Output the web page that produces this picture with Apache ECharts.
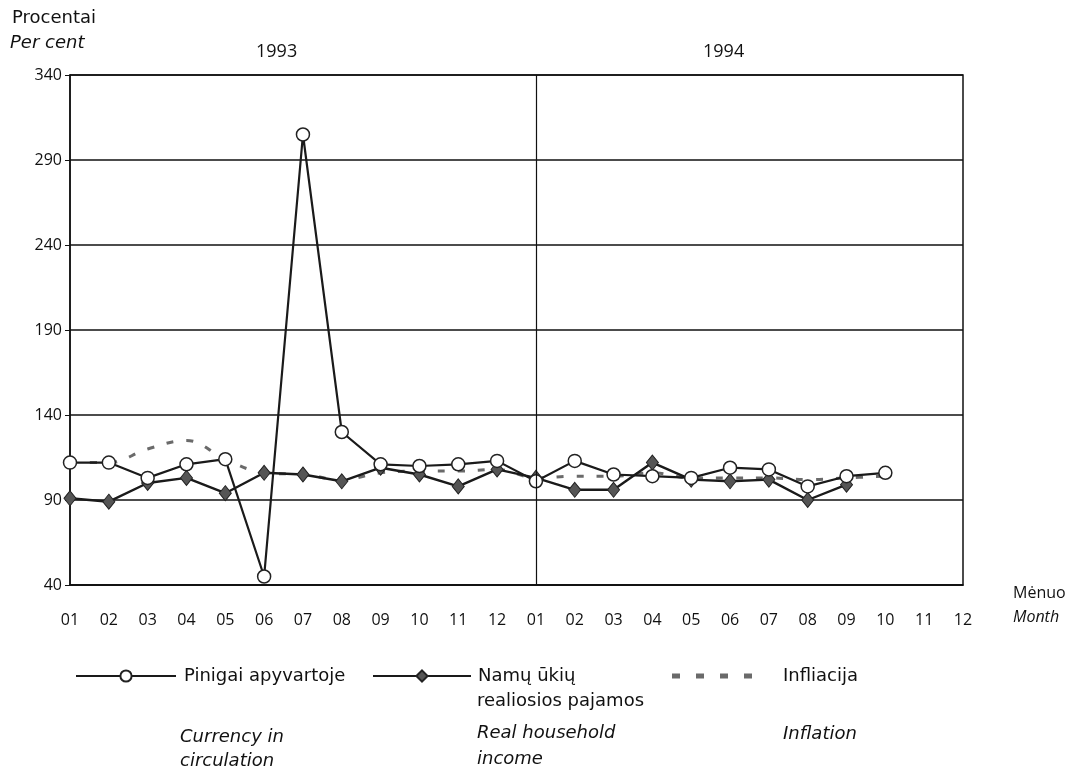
<!DOCTYPE html>
<html>
<head>
<meta charset="utf-8">
<script src="https://cdn.jsdelivr.net/npm/echarts@6/dist/echarts.min.js"></script>
<style>
html,body{margin:0;padding:0;background:#fff;}
#chart{width:1081px;height:773px;}
</style>
</head>
<body>
<div id="chart"></div>
<script>
const months = ['01','02','03','04','05','06','07','08','09','10','11','12','01','02','03','04','05','06','07','08','09','10','11','12'];
const yTicks = [40, 90, 140, 190, 240, 290, 340];
const currency = [112,112,103,111,114,45,305,130,111,110,111,113, 101,113,105,104,103,109,108,98,104,106,null,null];
const income   = [91,89,100,103,94,106,105,101,109,105,98,108, 103,96,96,112,102,101,102,90,99,null,null,null];
const inflation= [112,112,120,125,114,106,105,102,106,107,107,108, 103,104,104,106,103,103,103,102,103,104,null,null];

const FONT = '"Open Sans", sans-serif';
const TFONT = '"DejaVu Sans", sans-serif';
const chart = echarts.init(document.getElementById('chart'));
chart.setOption({
  animation: false,
  backgroundColor: '#fff',
  textStyle: {fontFamily: FONT, color: '#111'},
  grid: {left: 70, right: 118, top: 75, bottom: 188, show: true, borderColor: '#111', borderWidth: 1.5, backgroundColor: 'transparent'},
  xAxis: {
    type: 'category', data: months, boundaryGap: false,
    axisLine: {lineStyle: {color: '#111', width: 1.5}},
    axisTick: {show: false},
    axisLabel: {color: '#111', fontSize: 16, margin: 27, fontFamily: FONT, interval: 0},
    splitLine: {show: false}
  },
  yAxis: {
    type: 'value', min: 40, max: 340,
    axisLine: {show: true, lineStyle: {color: '#111', width: 1.5}},
    axisTick: {show: true, length: 5, customValues: yTicks, lineStyle: {color: '#111'}},
    axisLabel: {color: '#111', fontSize: 16, margin: 8, fontFamily: FONT, customValues: yTicks},
    splitLine: {show: true, lineStyle: {color: '#111', width: 1.5}}
  },
  legend: [
    {left: 75, top: 667, padding: 0, itemWidth: 100, itemHeight: 14, data: ['Pinigai apyvartoje'],
     textStyle: {fontSize: 18, color: '#111', fontFamily: TFONT, padding: [0,0,0,3]}},
    {left: 372, top: 667, padding: 0, itemWidth: 98, itemHeight: 14, data: ['Namų ūkių realiosios pajamos'],
     formatter: function(){ return 'Namų ūkių'; },
     textStyle: {fontSize: 18, color: '#111', fontFamily: TFONT, padding: [0,0,0,2]}},
    {left: 672, top: 667, padding: 0, itemWidth: 80, itemHeight: 5,
     data: [{name: 'Infliacija', icon: 'path://M0,0H8V5H0Z M24,0H32V5H24Z M48,0H56V5H48Z M72,0H80V5H72Z'}],
     textStyle: {fontSize: 18, color: '#111', fontFamily: TFONT, padding: [0,0,0,26]}}
  ],
  graphic: [
    {type: 'text', left: 12, top: 9, style: {text: 'Procentai', font: '18px ' + TFONT, fill: '#111'}},
    {type: 'text', left: 10, top: 34, style: {text: 'Per cent', font: 'italic 18px ' + TFONT, fill: '#111'}},
    {type: 'text', left: 256, top: 43, style: {text: '1993', font: '18px ' + FONT, fill: '#111'}},
    {type: 'text', left: 703, top: 43, style: {text: '1994', font: '18px ' + FONT, fill: '#111'}},
    {type: 'text', left: 1013, top: 585, style: {text: 'Mėnuo', font: '16px ' + FONT, fill: '#111'}},
    {type: 'text', left: 1013, top: 609, style: {text: 'Month', font: 'italic 16px ' + FONT, fill: '#111'}},
    {type: 'text', left: 477, top: 692, style: {text: 'realiosios pajamos', font: '18px ' + TFONT, fill: '#111'}},
    {type: 'text', left: 180, top: 725, style: {text: 'Currency in\ncirculation', font: 'italic 18px ' + TFONT, fill: '#111', lineHeight: 24}},
    {type: 'text', left: 477, top: 720, style: {text: 'Real household\nincome', font: 'italic 18px ' + TFONT, fill: '#111', lineHeight: 26}},
    {type: 'text', left: 783, top: 725, style: {text: 'Inflation', font: 'italic 18px ' + TFONT, fill: '#111'}}
  ],
  series: [
    {
      name: 'Infliacija', type: 'line', data: inflation, smooth: 0.4, symbol: 'none', z: 1,
      lineStyle: {color: '#6a6a6a', width: 3, type: [7, 13]},
      itemStyle: {color: '#6a6a6a'}
    },
    {
      name: 'Namų ūkių realiosios pajamos', type: 'line', data: income, z: 2,
      symbol: 'diamond', symbolSize: [12, 15],
      lineStyle: {color: '#1a1a1a', width: 2.4},
      itemStyle: {color: '#555', borderColor: '#222', borderWidth: 1}
    },
    {
      name: 'Pinigai apyvartoje', type: 'line', data: currency, z: 3,
      symbol: 'circle', symbolSize: 13,
      lineStyle: {color: '#1a1a1a', width: 2.2},
      itemStyle: {color: '#fff', borderColor: '#222', borderWidth: 1.5},
      markLine: {
        silent: true, symbol: 'none', animation: false,
        label: {show: false},
        lineStyle: {color: '#111', width: 1.2, type: 'solid'},
        data: [{xAxis: 12}]
      }
    }
  ]
});
</script>
</body>
</html>
